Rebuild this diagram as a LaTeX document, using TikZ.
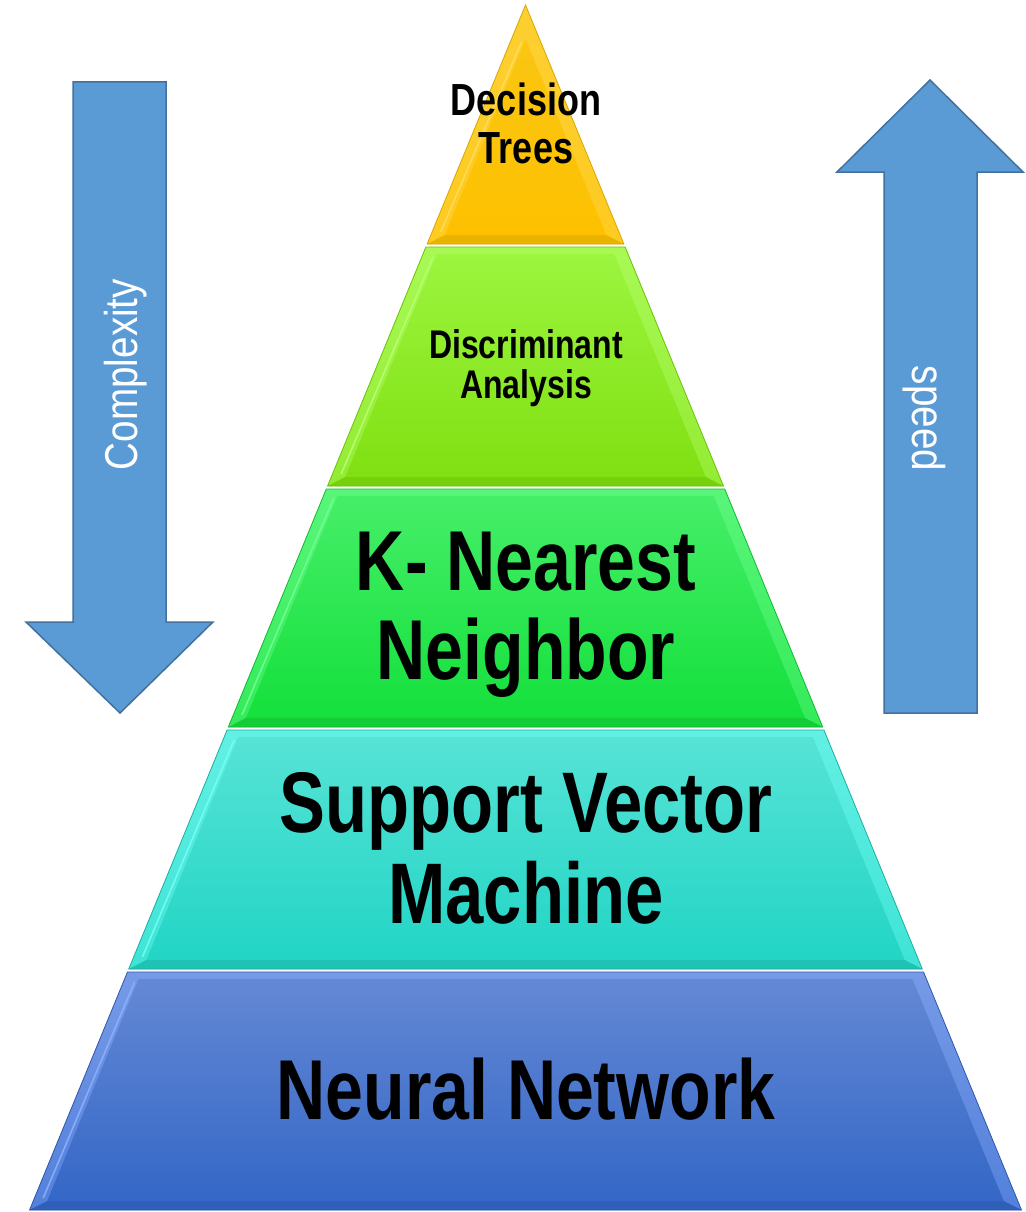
\documentclass[tikz,border=0pt]{standalone}
\usepackage{fontspec}
\newfontfamily\labfont{Liberation Sans}[FakeStretch=0.8]
\newfontfamily\arrfont{Liberation Sans}[FakeStretch=0.84]
\definecolor{goldTop}{HTML}{FAC612}
\definecolor{goldBot}{HTML}{FDC100}
\definecolor{goldLt}{HTML}{FFDC5A}
\definecolor{goldDk}{HTML}{C89A00}
\definecolor{limeTop}{HTML}{9CF53E}
\definecolor{limeBot}{HTML}{80E012}
\definecolor{limeLt}{HTML}{B8FF70}
\definecolor{limeDk}{HTML}{64B400}
\definecolor{grnTop}{HTML}{46EE68}
\definecolor{grnBot}{HTML}{14E03C}
\definecolor{grnLt}{HTML}{70FF90}
\definecolor{grnDk}{HTML}{0FA82E}
\definecolor{tealTop}{HTML}{56E3D6}
\definecolor{tealBot}{HTML}{22D5C5}
\definecolor{tealLt}{HTML}{72FFF5}
\definecolor{tealDk}{HTML}{1A9E92}
\definecolor{bluTop}{HTML}{6488D4}
\definecolor{bluBot}{HTML}{3467C7}
\definecolor{bluLt}{HTML}{8CB0FF}
\definecolor{bluDk}{HTML}{2A4F9E}
\definecolor{arrFill}{HTML}{5B9BD5}
\definecolor{arrLine}{HTML}{41719C}
\newcommand\pyrlayer[6]{%
  \pgfmathsetmacro\Ya{#1}%
  \pgfmathsetmacro\Yb{#2}%
  \pgfmathsetmacro\Oa{0.4116*(\Ya-5)}%
  \pgfmathsetmacro\Ob{0.4116*(\Yb-5)}%
  \pgfmathsetmacro\Yia{max(\Ya+7,39.1)}%
  \pgfmathsetmacro\Yib{\Yb-9}%
  \pgfmathsetmacro\Ia{max(0.4116*(\Yia-5)-14,0)}%
  \pgfmathsetmacro\Ib{0.4116*(\Yib-5)-14}%
  \shade[top color=#5!45!#3, bottom color=#5!35!#4]
    (525.5-\Oa,\Ya) -- (525.5+\Oa,\Ya) -- (525.5+\Ob,\Yb) -- (525.5-\Ob,\Yb) -- cycle;
  \fill[#6!35!#4]
    (525.5-\Ob,\Yb) -- (525.5+\Ob,\Yb) -- (525.5+\Ib,\Yib) -- (525.5-\Ib,\Yib) -- cycle;
  \shade[top color=#3, bottom color=#4]
    (525.5-\Ia,\Yia) -- (525.5+\Ia,\Yia) -- (525.5+\Ib,\Yib) -- (525.5-\Ib,\Yib) -- cycle;
  \draw[#5, opacity=0.9, line width=1.6]
    (525.5-\Ia-4,\Yia+3) -- (525.5-\Ib-4,\Yib-3);
  \draw[#6!70!#4, line width=0.8]
    (525.5-\Oa,\Ya) -- (525.5+\Oa,\Ya) -- (525.5+\Ob,\Yb) -- (525.5-\Ob,\Yb) -- cycle;
}
\tikzset{
  biglab/.style={font=\labfont\bfseries\fontsize{85}{85}\selectfont, inner sep=0pt, anchor=base},
  svmlab/.style={font=\labfont\bfseries\fontsize{86}{86}\selectfont, inner sep=0pt, anchor=base},
  dtlab/.style={font=\labfont\bfseries\fontsize{45}{45}\selectfont, inner sep=0pt, anchor=base},
  dalab/.style={font=\labfont\bfseries\fontsize{40}{40}\selectfont, inner sep=0pt, anchor=base},
  arrlab/.style={font=\arrfont\fontsize{46}{46}\selectfont, text=white, inner sep=0pt, anchor=base},
  bigarrow/.style={fill=arrFill, draw=arrLine, line width=1.5pt, line join=miter}
}
\begin{document}
\begin{tikzpicture}[x=1pt, y=-1pt]
\useasboundingbox (0,0) rectangle (1025,1212);
\fill[white] (0,0) rectangle (1025,1212);
% arrows
\draw[bigarrow] (73,82) -- (166,82) -- (166,622) -- (213,622) -- (120,713) -- (26,622) -- (73,622) -- cycle;
\draw[bigarrow] (930,80) -- (1023,172) -- (977,172) -- (977,713) -- (884,713) -- (884,172) -- (837,172) -- cycle;
\node[arrlab, rotate=90] (cplx) at (137,374.5) {Complexity};
\node[arrlab, rotate=-90] (spd) at (912,418.5) {speed};
% pyramid
\pyrlayer{5}{244}{goldTop}{goldBot}{goldLt}{goldDk}
\pyrlayer{247}{486}{limeTop}{limeBot}{limeLt}{limeDk}
\pyrlayer{489}{727}{grnTop}{grnBot}{grnLt}{grnDk}
\pyrlayer{730}{969}{tealTop}{tealBot}{tealLt}{tealDk}
\pyrlayer{972}{1210}{bluTop}{bluBot}{bluLt}{bluDk}
% labels
\node[dtlab] (dt1) at (526,116) {Decision};
\node[dtlab] (dt2) at (526,163) {Trees};
\node[dalab] (da1) at (526,358) {Discriminant};
\node[dalab] (da2) at (526,398) {Analysis};
\node[biglab] (kn1) at (526,590) {K- Nearest};
\node[biglab] (kn2) at (526,679) {Neighbor};
\node[svmlab] (sv1) at (526,832) {Support Vector};
\node[svmlab] (sv2) at (526,923) {Machine};
\node[biglab] (nn) at (526,1119) {Neural Network};
\end{tikzpicture}
\end{document}
